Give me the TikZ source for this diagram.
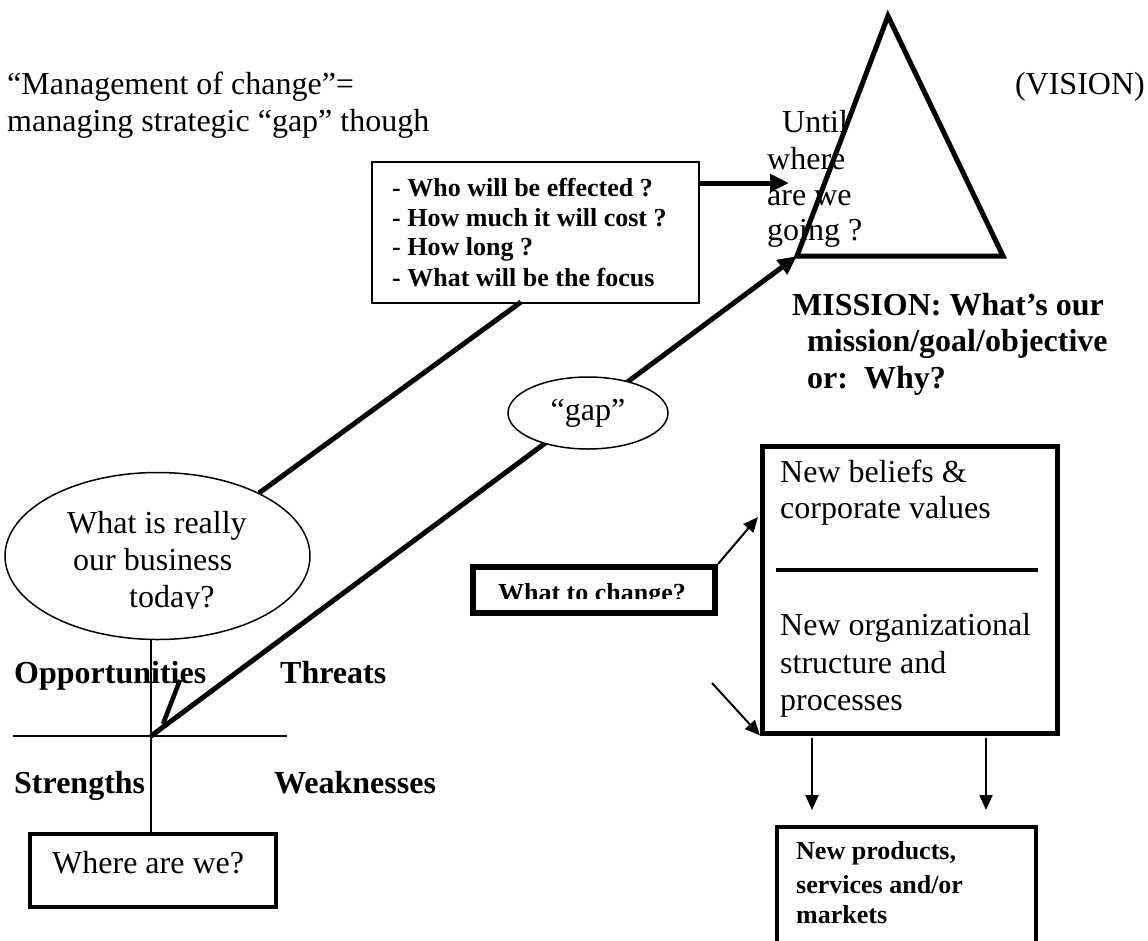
\documentclass[tikz,border=0pt]{standalone}
\usepackage{fontspec}
\setmainfont{Liberation Serif}
\usetikzlibrary{arrows.meta,shapes.geometric}
\begin{document}
\begin{tikzpicture}[x=1pt,y=-1pt,
  txt/.style={inner sep=0pt, anchor=base west, font=\fontsize{32}{37}\selectfont},
  btxt/.style={inner sep=0pt, anchor=base west, font=\fontsize{32}{37}\selectfont\bfseries},
  stxt/.style={inner sep=0pt, anchor=base west, font=\fontsize{26}{30}\selectfont\bfseries},
  boxnode/.style={draw, inner sep=0pt, anchor=north west},
  thickline/.style={line width=5pt},
  bighead/.style={-{Triangle[length=19pt,width=17pt]}},
  smallhead/.style={-{Triangle[length=15pt,width=13pt]}},
  thinarrow/.style={line width=2pt, smallhead},
]
\useasboundingbox (0,0) rectangle (1148,940);
\clip (0,0) rectangle (1148,940);

% top-left title
\node[txt] (m1) at (7,94) {“Management of change”=};
\node[txt] (m2) at (7,131) {managing strategic “gap” though};
\node[txt, anchor=base east] (vis) at (1145,94) {(VISION)};

% until where are we going
\node[txt] (u1) at (782,132) {Until};
\node[txt] (u2) at (767,169) {where};
\node[txt] (u3) at (767,205) {are we};
\node[txt] (u4) at (767,240) {going ?};

% triangle
\coordinate (tA) at (888,16);
\coordinate (tL) at (797,256);
\coordinate (tR) at (1003,256);
\draw[thickline] (tA) -- (tR) -- (tL) -- cycle;

% question box
\node[boxnode, line width=2pt, minimum width=327pt, minimum height=141pt] (qbox) at (371,161) {};
\node[stxt] (q1) at (392,196) {- Who will be effected ?};
\node[stxt] (q2) at (392,226) {- How much it will cost ?};
\node[stxt] (q3) at (392,255) {- How long ?};
\node[stxt] (q4) at (392,286) {- What will be the focus};
\coordinate (qa) at (698,183);
\coordinate (qt) at (789,183);
\draw[thickline, bighead] (qa) -- (qt);

% mission
\node[btxt] (ms1) at (792,315) {MISSION: What’s our};
\node[btxt] (ms2) at (807,351) {mission/goal/objective};
\node[btxt] (ms3) at (807,388) {or:\ \ Why?};

% long gap arrow from SWOT centre to triangle
\coordinate (sw) at (151,736);
\draw[thickline, bighead] (sw) -- (tL);
\draw[line width=4.5pt] (163,724) -- (180,680);

% line from question box to business ellipse
\coordinate (qb) at (521,302);
\coordinate (eb) at (259,493);
\draw[thickline] (qb) -- (eb);

% business ellipse
\node[draw, ellipse, fill=white, line width=1.5pt, inner sep=0pt,
      minimum width=305pt, minimum height=167pt] (biz) at (157.5,556) {};
\node[txt] (b1) at (67,533) {What is really};
\node[txt] (b2) at (73,570) {our business};
\begin{scope}
  \clip (100,570) rectangle (260,608);
  \node[txt] (b3) at (129,607) {today?};
\end{scope}

% gap ellipse
\node[draw, ellipse, fill=white, line width=1.5pt, inner sep=0pt,
      minimum width=160pt, minimum height=72pt,
      font=\fontsize{32}{37}\selectfont] (gap) at (588,413) {“gap”};

% where are we box
\node[boxnode, line width=4pt, minimum width=246pt, minimum height=73pt] (wbox) at (28,832) {};
\node[txt] (wt) at (52,873) {Where are we?};

% SWOT cross
\draw[line width=1.5pt] (sw |- biz.south) -- (sw |- wbox.north);
\coordinate (hl) at (13,736);
\coordinate (hr) at (287,736);
\draw[line width=1.5pt] (hl) -- (hr);
\node[btxt] (op) at (14,683) {Opportunities};
\node[btxt] (th) at (280,683) {Threats};
\node[btxt] (st) at (14,793) {Strengths};
\node[btxt] (wk) at (274,793) {Weaknesses};

% what to change box
\node[boxnode, line width=6pt, minimum width=242pt, minimum height=46pt] (wtc) at (470,564) {};
\begin{scope}
  \clip (476,568) rectangle (706,598);
  \node[stxt, anchor=base] (wtct) at (592,601) {What to change?};
\end{scope}

% right box
\node[boxnode, line width=4.5pt, minimum width=295pt, minimum height=287pt] (rbox) at (760,444) {};
\coordinate (dl) at (776,570);
\coordinate (dr) at (1038,570);
\draw[line width=4.5pt] (dl) -- (dr);
\node[txt] (r1) at (780,482) {New beliefs \&};
\node[txt] (r2) at (780,518) {corporate values};
\node[txt] (r3) at (780,635) {New organizational};
\node[txt] (r4) at (780,673) {structure and};
\node[txt] (r5) at (780,710) {processes};

% arrows into right box
\coordinate (rt1) at (758,517);
\draw[thinarrow] (wtc.north east) -- (rt1);
\coordinate (a2s) at (712,683);
\draw[thinarrow] (a2s) -- (rbox.south west);

% bottom box
\coordinate (d1s) at (812,738);
\coordinate (d1e) at (812,810);
\coordinate (d2s) at (986,738);
\coordinate (d2e) at (986,810);
\draw[thinarrow] (d1s) -- (d1e);
\draw[thinarrow] (d2s) -- (d2e);
\node[boxnode, line width=4pt, minimum width=259pt, minimum height=140pt] (pbox) at (775,825) {};
\node[stxt] (p1) at (796,859) {New products,};
\node[stxt] (p2) at (796,893) {services and/or};
\node[stxt] (p3) at (796,923) {markets};
\end{tikzpicture}
\end{document}
